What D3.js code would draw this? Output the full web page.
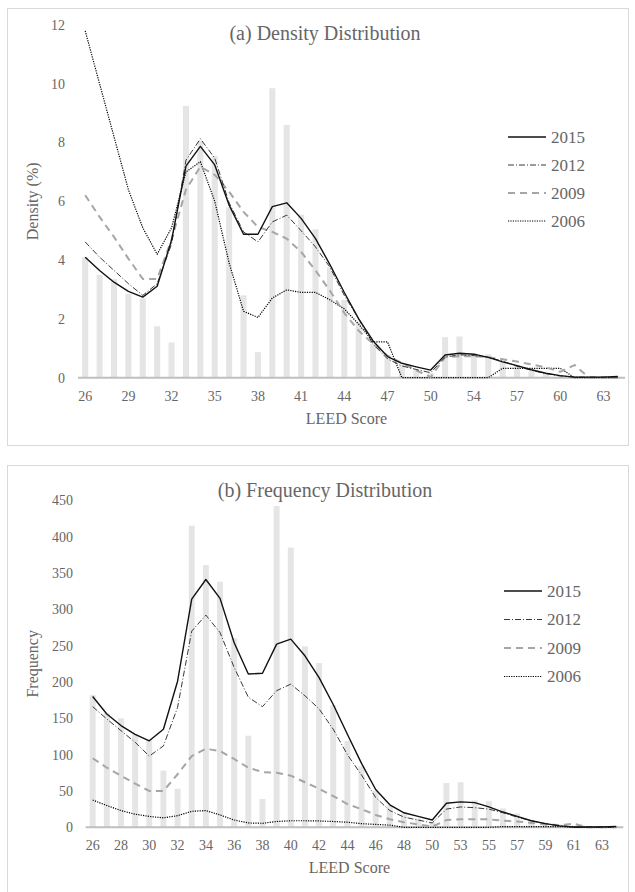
<!DOCTYPE html>
<html>
<head>
<meta charset="utf-8">
<script src="https://cdn.jsdelivr.net/npm/d3@7"></script>
<style>
  html, body { margin: 0; padding: 0; background: #fff; }
  svg { display: block; font-family: "Liberation Serif", "Times New Roman", serif; }
</style>
</head>
<body>
<div id="chart"></div>
<script>
// LEED score categories (51 is not present)
const scores = [26, 27, 28, 29, 30, 31, 32, 33, 34, 35, 36, 37, 38, 39, 40, 41, 42, 43, 44, 45,
  46, 47, 48, 49, 50, 52, 53, 54, 55, 56, 57, 58, 59, 60, 61, 62, 63, 64];
const years = ['2015', '2012', '2009', '2006'];

// (a) density, %
const densityBars = [4.1, 3.5, 3.35, 2.85, 2.7, 1.75, 1.2, 9.25, 8.05, 7.55, 5.8, 2.8, 0.87, 9.85, 8.6, 5.55, 5.05, 3.75, 2.65, 1.9,
  1.15, 0.68, 0.43, 0.27, 0.16, 1.38, 1.4, 0.83, 0.8, 0.58, 0.42, 0.22, 0.13, 0.09, 0.05, 0.03, 0.03, 0.03];
const density2015 = [4.1, 3.65, 3.25, 2.94, 2.74, 3.11, 4.68, 7.2, 7.87, 7.24, 5.87, 4.88, 4.88, 5.82, 5.95, 5.42, 4.73, 3.85, 2.9, 2.0,
  1.25, 0.72, 0.49, 0.37, 0.26, 0.77, 0.83, 0.8, 0.69, 0.54, 0.41, 0.27, 0.15, 0.07, 0.02, 0.02, 0.02, 0.04];
const density2012 = [4.62, 4.1, 3.65, 3.2, 2.8, 3.2, 4.55, 7.4, 8.13, 7.47, 5.95, 4.96, 4.62, 5.3, 5.53, 5.0, 4.45, 3.76, 2.8, 2.0,
  1.14, 0.64, 0.4, 0.28, 0.17, 0.7, 0.78, 0.75, 0.7, 0.56, 0.39, 0.25, 0.14, 0.06, 0.02, 0.02, 0.02, 0.02];
const density2009 = [6.21, 5.47, 4.79, 4.05, 3.36, 3.36, 4.7, 6.4, 7.18, 6.9, 6.33, 5.64, 5.13, 4.96, 4.73, 4.28, 3.65, 2.96, 2.2, 1.6,
  1.15, 0.75, 0.5, 0.25, 0.02, 0.7, 0.73, 0.73, 0.7, 0.63, 0.55, 0.45, 0.35, 0.2, 0.43, 0, 0, 0];
const density2006 = [11.8, 10.0, 8.2, 6.4, 5.1, 4.2, 5.1, 7.0, 7.35, 6.0, 3.9, 2.26, 2.05, 2.71, 2.99, 2.9, 2.9, 2.65, 2.34, 1.82,
  1.22, 1.22, 0, 0, 0, 0, 0, 0, 0, 0.32, 0.32, 0.32, 0.32, 0.32, 0, 0, 0, 0];

// (b) frequency, count
const freqBars = [182, 157, 150, 128, 121, 78, 53, 415, 361, 338, 260, 126, 39, 442, 385, 249, 226, 168, 119, 84,
  50, 30, 19, 12, 7, 61, 62, 37, 36, 26, 19, 9, 6, 4, 2, 1, 1, 1];
const freq2015 = [180, 156, 140, 128, 119, 135, 201, 314, 341, 315, 254, 211, 212, 252, 259, 236, 206, 169, 128, 88,
  52, 31, 20, 15, 10, 33, 35, 34, 28, 21, 15, 9, 5, 2, 0.5, 0.5, 0.5, 1];
const freq2012 = [166, 149, 133, 117, 98, 112, 165, 270, 292, 268, 220, 179, 166, 188, 197, 181, 163, 135, 100, 72,
  41, 23, 14, 10, 6, 25, 28, 27, 25, 20, 14, 9, 5, 2, 0.5, 0.5, 0.5, 0.5];
const freq2009 = [95, 82, 71, 60, 50, 50, 73, 98, 108, 105, 94, 82, 76, 75, 71, 62, 53, 43, 32, 25,
  17, 11, 7, 4, 1, 10, 11, 11, 11, 9, 8, 6, 4, 3, 5, 0, 0, 0];
const freq2006 = [37.5, 30, 23, 18, 15, 13, 16, 22, 23, 17, 10, 6, 5.5, 8, 9, 9, 8.7, 8, 7, 5,
  4, 3, 0, 0, 0, 0, 0, 0, 0, 1, 1, 1, 1, 1, 0, 0, 0, 0];

const densityTicks = [0, 2, 4, 6, 8, 10, 12];
const freqTicks = [0, 50, 100, 150, 200, 250, 300, 350, 400, 450];

const textColor = '#666';
const lineStyles = {
  '2015': { stroke: '#111', width: 1.4, dash: null },
  '2012': { stroke: '#222', width: 0.9, dash: '6,2,1,2' },
  '2009': { stroke: '#a6a6a6', width: 2, dash: '7,5' },
  '2006': { stroke: '#000', width: 1.2, dash: '1.2,1.2' },
};

const svg = d3.select('#chart').append('svg')
  .attr('width', 635)
  .attr('height', 892);

function drawPanel(opt) {
  const g = svg.append('g');

  // outer box
  g.append('rect')
    .attr('x', opt.box[0] + 0.5).attr('y', opt.box[1] + 0.5)
    .attr('width', opt.box[2]).attr('height', opt.box[3])
    .attr('fill', 'none').attr('stroke', '#d9d9d9').attr('stroke-width', 1);

  const x = d3.scaleBand()
    .domain(scores.map(String))
    .range([opt.left, opt.right])
    .paddingInner(0.58)
    .paddingOuter(0.29);
  const y = d3.scaleLinear()
    .domain([0, opt.ticks[opt.ticks.length - 1]])
    .range([opt.bottom, opt.top]);
  const cx = s => x(String(s)) + x.bandwidth() / 2;

  // bars
  g.selectAll('.bar')
    .data(scores.map((s, i) => ({ s, v: opt.bars[i] })))
    .enter().append('rect')
    .attr('class', 'bar')
    .attr('x', d => x(String(d.s)))
    .attr('width', x.bandwidth())
    .attr('y', d => y(d.v))
    .attr('height', d => y(0) - y(d.v))
    .attr('fill', '#e5e5e5');

  // x axis line
  g.append('line')
    .attr('x1', opt.left).attr('x2', opt.right)
    .attr('y1', opt.bottom).attr('y2', opt.bottom)
    .attr('stroke', '#bfbfbf').attr('stroke-width', 2);

  // lines
  const line = d3.line()
    .x((d, i) => cx(scores[i]))
    .y(d => y(d));
  years.slice().reverse().forEach(yr => {
    const st = lineStyles[yr];
    g.append('path')
      .attr('d', line(opt.series[yr]))
      .attr('fill', 'none')
      .attr('stroke', st.stroke)
      .attr('stroke-width', st.width)
      .attr('stroke-dasharray', st.dash)
      .attr('stroke-linejoin', 'round');
  });

  // y ticks
  g.selectAll('.ytick')
    .data(opt.ticks)
    .enter().append('text')
    .attr('x', opt.yLabelX)
    .attr('y', d => y(d))
    .attr('dy', '0.35em')
    .attr('text-anchor', 'end')
    .attr('font-size', 14)
    .attr('fill', textColor)
    .text(d => d);

  // x ticks
  g.selectAll('.xtick')
    .data(scores.filter((s, i) => i % opt.xEvery === 0))
    .enter().append('text')
    .attr('x', d => cx(d))
    .attr('y', opt.bottom + 18)
    .attr('dy', '0.35em')
    .attr('text-anchor', 'middle')
    .attr('font-size', 14)
    .attr('fill', textColor)
    .text(d => d);

  // titles
  g.append('text')
    .attr('x', opt.titleX).attr('y', opt.titleY)
    .attr('text-anchor', 'middle')
    .attr('font-size', 20)
    .attr('fill', textColor)
    .text(opt.title);

  g.append('text')
    .attr('x', (opt.left + opt.right) / 2 - 5)
    .attr('y', opt.bottom + 46)
    .attr('text-anchor', 'middle')
    .attr('font-size', 16)
    .attr('fill', textColor)
    .text('LEED Score');

  g.append('text')
    .attr('transform', `translate(${opt.yTitleX},${(opt.top + opt.bottom) / 2}) rotate(-90)`)
    .attr('text-anchor', 'middle')
    .attr('font-size', 16)
    .attr('fill', textColor)
    .text(opt.yTitle);

  // legend
  const leg = g.append('g');
  years.forEach((yr, i) => {
    const st = lineStyles[yr];
    const ly = opt.legend.y + i * opt.legend.step;
    leg.append('line')
      .attr('x1', opt.legend.x).attr('x2', opt.legend.x + 38)
      .attr('y1', ly).attr('y2', ly)
      .attr('stroke', st.stroke)
      .attr('stroke-width', st.width)
      .attr('stroke-dasharray', st.dash);
    leg.append('text')
      .attr('x', opt.legend.x + 43)
      .attr('y', ly)
      .attr('dy', '0.35em')
      .attr('font-size', 17)
      .attr('fill', textColor)
      .text(yr);
  });
}

drawPanel({
  box: [7, 8, 621, 437],
  left: 78, right: 625, top: 25, bottom: 377.7,
  ticks: densityTicks,
  bars: densityBars,
  series: { '2015': density2015, '2012': density2012, '2009': density2009, '2006': density2006 },
  xEvery: 3,
  yLabelX: 65,
  yTitleX: 38,
  yTitle: 'Density (%)',
  title: '(a) Density Distribution',
  titleX: 325, titleY: 40,
  legend: { x: 508, y: 137, step: 28 },
});

drawPanel({
  box: [7, 465, 621, 440],
  left: 85.6, right: 623.3, top: 500.3, bottom: 827.3,
  ticks: freqTicks,
  bars: freqBars,
  series: { '2015': freq2015, '2012': freq2012, '2009': freq2009, '2006': freq2006 },
  xEvery: 2,
  yLabelX: 73,
  yTitleX: 38,
  yTitle: 'Frequency',
  title: '(b) Frequency Distribution',
  titleX: 325, titleY: 497,
  legend: { x: 504, y: 591, step: 28.5 },
});
</script>
</body>
</html>
